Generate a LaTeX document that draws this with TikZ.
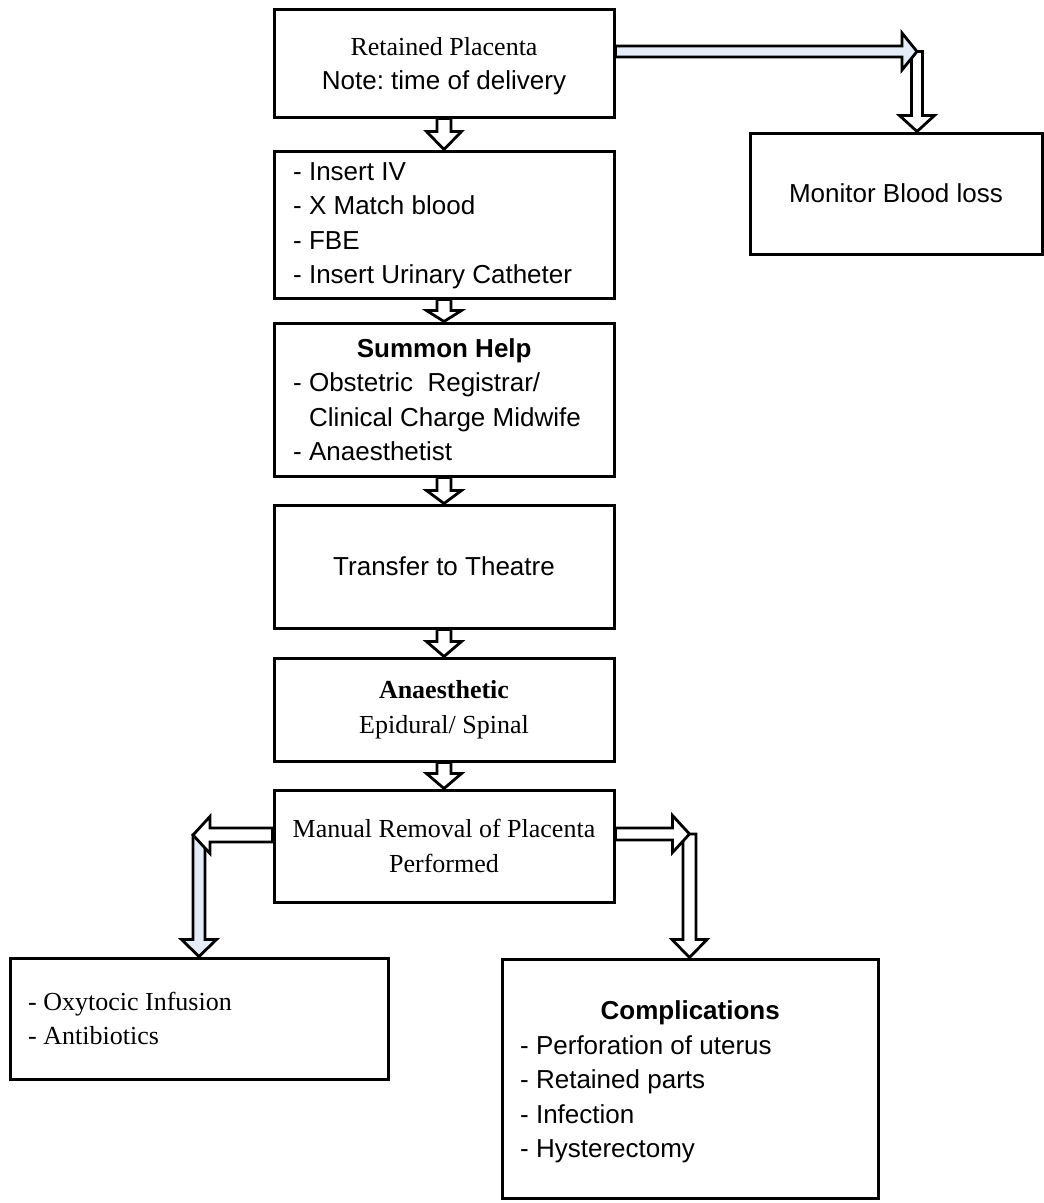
\documentclass[tikz,border=0pt]{standalone}
\usepackage{fontspec}
\setmainfont{Liberation Serif}
\setsansfont{Liberation Sans}
\usetikzlibrary{calc}
\definecolor{paleblue}{RGB}{228,236,248}
\tikzset{
  box/.style={draw, line width=3pt, rectangle, inner sep=0pt, fill=white,
    font=\fontsize{26}{34.5}\selectfont\frenchspacing, align=center},
  sbox/.style={box, font=\fontsize{26}{34.5}\selectfont\frenchspacing\sffamily},
  txt/.style={inner sep=0pt, font=\fontsize{26}{34.5}\selectfont\frenchspacing, align=left},
  stxt/.style={txt, font=\fontsize{26}{34.5}\selectfont\frenchspacing\sffamily},
  blk/.style={draw, line width=2.8pt, line join=miter, miter limit=10},
}
% #1 start, #2 end, #3 fill, #4 head length, #5 shaft half width
\newcommand\arrdown[5]{\draw[blk,fill=#3] let \p1=(#1), \p2=(#2) in
  (\x1-#5,\y1) -- (\x1-#5,\y2+#4) -- (\x1-17.5pt,\y2+#4) -- (\x1,\y2) --
  (\x1+17.5pt,\y2+#4) -- (\x1+#5,\y2+#4) -- (\x1+#5,\y1) -- cycle;}
\newcommand\arrright[5]{\draw[blk,fill=#3] let \p1=(#1), \p2=(#2) in
  (\x1,\y1+#5) -- (\x2-#4,\y1+#5) -- (\x2-#4,\y1+18.5pt) -- (\x2,\y1) --
  (\x2-#4,\y1-18.5pt) -- (\x2-#4,\y1-#5) -- (\x1,\y1-#5) -- cycle;}
\newcommand\arrleft[5]{\draw[blk,fill=#3] let \p1=(#1), \p2=(#2) in
  (\x1,\y1+#5) -- (\x2+#4,\y1+#5) -- (\x2+#4,\y1+18.5pt) -- (\x2,\y1) --
  (\x2+#4,\y1-18.5pt) -- (\x2+#4,\y1-#5) -- (\x1,\y1-#5) -- cycle;}
\begin{document}
\begin{tikzpicture}[x=1pt,y=-1pt]
\useasboundingbox (0,0) rectangle (1044,1203);

% central column
\node[box, minimum width=340pt, minimum height=108pt] (b1) at (444,63) {};
\node[txt, align=center] (t1) at (444,66)
  {Retained Placenta\\\sffamily Note: time of delivery};
\node[box, minimum width=340pt, minimum height=147pt] (b2) at (444,224.5) {};
\node[stxt, anchor=west] (t2) at (293,225.5)
  {- Insert IV\\- X Match blood\\- FBE\\- Insert Urinary Catheter};
\node[box, minimum width=340pt, minimum height=153pt] (b3) at (444,399.5) {};
\node[stxt, anchor=west] (t3) at (293,399.5)
  {\makebox[302pt][c]{\bfseries Summon Help}\\- Obstetric\ \ Registrar/\\\hspace*{16pt}Clinical Charge Midwife\\- Anaesthetist};
\node[sbox, minimum width=340pt, minimum height=123pt] (b4) at (444,566.5)
  {Transfer to Theatre};
\node[box, minimum width=340pt, minimum height=103pt] (b5) at (444,709.5)
  {\bfseries Anaesthetic\\Epidural/ Spinal};
\node[box, minimum width=340pt, minimum height=112pt] (b6) at (444,846)
  {Manual Removal of Placenta\\Performed};

% side boxes
\node[sbox, minimum width=292pt, minimum height=121pt] (mon) at (896,193.5)
  {Monitor Blood loss};
\node[box, minimum width=378pt, minimum height=121pt] (left) at (199,1018.5) {};
\node[txt, anchor=west] (t8) at (28,1018.5) {- Oxytocic Infusion\\- Antibiotics};
\node[box, minimum width=376pt, minimum height=239pt] (comp) at (690,1078.5) {};
\node[stxt, anchor=west] (t9) at (520,1082)
  {\makebox[340pt][c]{\bfseries Complications}\\- Perforation of uterus\\- Retained parts\\- Infection\\- Hysterectomy};

% central arrows
\arrdown{b1.south}{b2.north}{white}{18pt}{7pt}
\arrdown{b2.south}{b3.north}{white}{11pt}{7pt}
\arrdown{b3.south}{b4.north}{white}{13pt}{7pt}
\arrdown{b4.south}{b5.north}{white}{15pt}{7pt}
\arrdown{b5.south}{b6.north}{white}{15pt}{7pt}

% top right
\coordinate (ctr) at (917,51.5);
\arrdown{ctr}{ctr |- mon.north}{white}{16pt}{5.5pt}
\arrright{b1.east |- ctr}{ctr}{paleblue}{15pt}{5.5pt}

% bottom right
\coordinate (cbr) at (689.5,834);
\arrdown{cbr}{cbr |- comp.north}{white}{18pt}{6.5pt}
\arrright{b6.east |- cbr}{cbr}{white}{17pt}{6pt}

% bottom left
\coordinate (cbl) at (199,835);
\arrdown{cbl}{cbl |- left.north}{paleblue}{17pt}{6pt}
\arrleft{b6.west |- cbl}{$(cbl)+(-6,0)$}{white}{17pt}{7pt}
\end{tikzpicture}
\end{document}
